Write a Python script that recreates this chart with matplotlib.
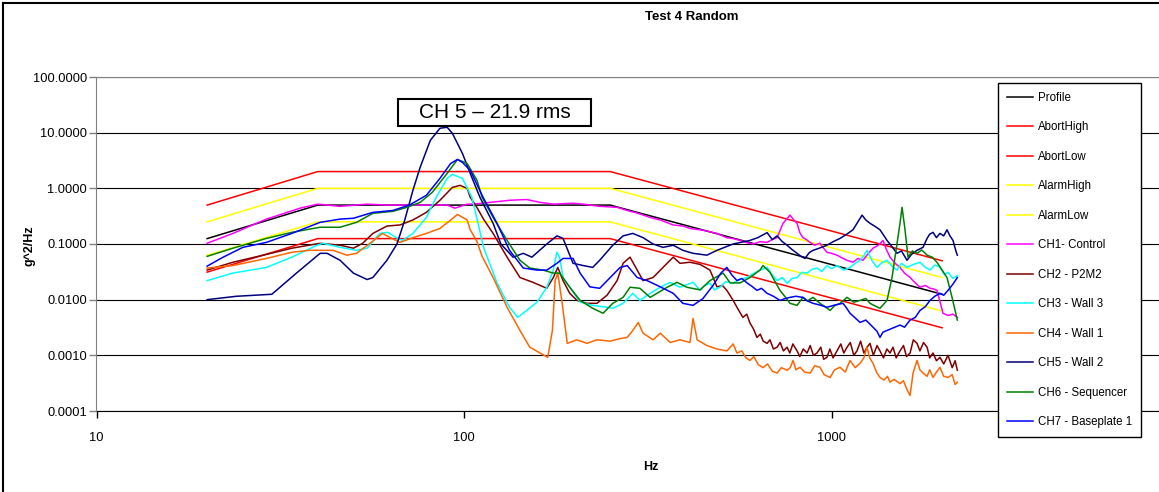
import matplotlib.pyplot as plt
from matplotlib.patches import Rectangle
from matplotlib.lines import Line2D
from matplotlib.ticker import FixedLocator, NullLocator

plt.rcParams['font.family'] = ['Liberation Sans', 'DejaVu Sans']

# test profile and its abort / alarm bands
prof_f = [20, 40, 250, 2000]
profile = [0.125, 0.5, 0.5, 0.0125]
abort_high = [0.5, 2.0, 2.0, 0.05]
abort_low = [0.03125, 0.125, 0.125, 0.003125]
alarm_high = [0.25, 1.0, 1.0, 0.025]
alarm_low = [0.0625, 0.25, 0.25, 0.00625]

# measured channel PSDs, (Hz, g^2/Hz)
ch1 = [(20, 0.103), (23.5, 0.155), (29, 0.28), (35.8, 0.44), (40, 0.52), (46, 0.475),
       (54.5, 0.52), (62, 0.50), (70, 0.50), (79, 0.50), (90, 0.50), (94.5, 0.44),
       (102, 0.52), (106, 0.52), (118, 0.56), (133, 0.61), (148, 0.63), (161, 0.56),
       (175, 0.52), (198, 0.54), (211, 0.52), (234, 0.475), (261, 0.456), (278, 0.40),
       (296, 0.36), (321, 0.30), (342, 0.27), (371, 0.22), (395, 0.21), (412, 0.19),
       (439, 0.18), (460, 0.17), (488, 0.155), (505, 0.14), (519, 0.13), (540, 0.125),
       (564, 0.116), (590, 0.105), (612, 0.10), (640, 0.11), (668, 0.107), (690, 0.12),
       (711, 0.13), (738, 0.235), (771, 0.33), (790, 0.27), (806, 0.235), (820, 0.16),
       (836, 0.13), (855, 0.12), (874, 0.107), (900, 0.095), (930, 0.103), (950, 0.085),
       (972, 0.071), (1000, 0.068), (1035, 0.063), (1070, 0.056), (1102, 0.051),
       (1144, 0.047), (1180, 0.055), (1218, 0.051), (1260, 0.068), (1297, 0.084),
       (1340, 0.095), (1381, 0.116), (1410, 0.08), (1443, 0.058), (1490, 0.045),
       (1536, 0.038), (1580, 0.03), (1636, 0.025), (1690, 0.02), (1741, 0.0167),
       (1800, 0.018), (1854, 0.016), (1900, 0.0155), (1936, 0.0147), (1975, 0.009),
       (2011, 0.0057), (2075, 0.0052), (2140, 0.0055), (2200, 0.0048)]
ch2 = [(20, 0.034), (23.5, 0.047), (29, 0.065), (34, 0.084), (40.6, 0.103), (46, 0.095),
       (50, 0.084), (53, 0.103), (56.5, 0.155), (61.7, 0.21), (67, 0.22), (72.6, 0.27),
       (79, 0.37), (86, 0.61), (93, 1.04), (97.5, 1.13), (102, 1.0), (104, 0.69),
       (108.5, 0.45), (113, 0.28), (120, 0.155), (131, 0.058), (142, 0.025),
       (154, 0.0205), (168, 0.016), (175, 0.025), (180, 0.038), (186, 0.022),
       (194, 0.013), (203, 0.0097), (216, 0.0086), (230, 0.0086), (245, 0.012),
       (261, 0.022), (271, 0.045), (283, 0.058), (296, 0.034), (307, 0.022), (327, 0.025),
       (348, 0.038), (371, 0.058), (387, 0.045), (412, 0.047), (439, 0.043), (467, 0.034),
       (488, 0.017), (505, 0.018), (519, 0.0147), (540, 0.0097), (553, 0.0073),
       (574, 0.0048), (588, 0.0055), (600, 0.0038), (613, 0.0030), (627, 0.0021),
       (640, 0.0024), (652, 0.0018), (668, 0.00164), (680, 0.0019), (695, 0.0013),
       (711, 0.0014), (725, 0.0017), (740, 0.0012), (757, 0.0014), (770, 0.0011),
       (785, 0.0016), (806, 0.0012), (820, 0.00095), (838, 0.0013), (858, 0.0011),
       (875, 0.0015), (893, 0.001), (913, 0.0011), (935, 0.0014), (952, 0.00085),
       (972, 0.00092), (990, 0.0013), (1010, 0.0009), (1035, 0.0012), (1060, 0.0016),
       (1080, 0.0011), (1102, 0.0014), (1125, 0.0017), (1150, 0.001), (1173, 0.0012),
       (1200, 0.0018), (1225, 0.0011), (1250, 0.0014), (1273, 0.00164), (1300, 0.001),
       (1330, 0.0015), (1355, 0.0012), (1385, 0.0009), (1415, 0.0013), (1443, 0.0011),
       (1470, 0.0014), (1500, 0.0009), (1536, 0.0012), (1570, 0.0015), (1600, 0.00095),
       (1636, 0.0011), (1670, 0.0019), (1709, 0.00164), (1740, 0.0012), (1780, 0.0017),
       (1820, 0.0014), (1850, 0.0009), (1889, 0.0011), (1930, 0.0008), (1973, 0.00092),
       (2020, 0.0007), (2075, 0.001), (2130, 0.0006), (2170, 0.0008), (2200, 0.00054)]
ch3 = [(20, 0.022), (23.5, 0.030), (29, 0.038), (34, 0.058), (39.8, 0.095), (41.3, 0.103),
       (46, 0.087), (51, 0.077), (54.5, 0.084), (59, 0.155), (62, 0.162), (66, 0.126),
       (68, 0.116), (72.6, 0.155), (79, 0.30), (84, 0.69), (90, 1.51), (93, 1.78),
       (99, 1.51), (105, 0.69), (109, 0.25), (113, 0.087), (123, 0.020), (133, 0.0073),
       (140, 0.0048), (148, 0.0064), (158, 0.009), (168, 0.0167), (175, 0.034),
       (179, 0.071), (182, 0.058), (186, 0.025), (194, 0.0167), (207, 0.009),
       (224, 0.0079), (245, 0.0073), (254, 0.007), (271, 0.0086), (288, 0.013),
       (301, 0.0097), (321, 0.013), (342, 0.0167), (364, 0.0205), (387, 0.0167),
       (420, 0.0205), (439, 0.0147), (452, 0.018), (467, 0.0197), (480, 0.015),
       (497, 0.0167), (515, 0.021), (540, 0.0197), (560, 0.023), (589, 0.025),
       (610, 0.029), (639, 0.034), (668, 0.038), (690, 0.028), (711, 0.022), (735, 0.025),
       (757, 0.0197), (780, 0.024), (806, 0.025), (830, 0.031), (858, 0.030), (885, 0.035),
       (913, 0.037), (940, 0.032), (972, 0.041), (1000, 0.036), (1035, 0.041),
       (1080, 0.034), (1123, 0.038), (1160, 0.045), (1196, 0.051), (1225, 0.062),
       (1249, 0.077), (1290, 0.05), (1330, 0.038), (1370, 0.046), (1416, 0.051),
       (1460, 0.04), (1507, 0.034), (1550, 0.045), (1605, 0.038), (1670, 0.043),
       (1741, 0.047), (1800, 0.038), (1854, 0.034), (1910, 0.042), (1973, 0.038),
       (2030, 0.028), (2075, 0.031), (2140, 0.024), (2200, 0.027)]
ch4 = [(20, 0.037), (23.5, 0.041), (29, 0.055), (34, 0.071), (38, 0.077), (44, 0.077),
       (48, 0.063), (51, 0.068), (55.5, 0.103), (60, 0.155), (63, 0.13), (67, 0.107),
       (72.6, 0.13), (79, 0.155), (86, 0.19), (92, 0.27), (96, 0.34), (102, 0.27),
       (104, 0.18), (108.5, 0.11), (112, 0.06), (120, 0.025), (131, 0.0073),
       (142, 0.0028), (151, 0.0014), (161, 0.0011), (169, 0.00092), (174, 0.0028),
       (177, 0.022), (180, 0.030), (185, 0.0086), (191, 0.00164), (203, 0.0019),
       (216, 0.00164), (230, 0.0019), (250, 0.0018), (266, 0.002), (278, 0.0021),
       (288, 0.0028), (298, 0.0039), (307, 0.0025), (327, 0.0019), (342, 0.0025),
       (364, 0.0017), (387, 0.0019), (412, 0.0017), (420, 0.0046), (431, 0.0019),
       (458, 0.0015), (488, 0.0013), (519, 0.0012), (540, 0.0016), (553, 0.0011),
       (570, 0.0012), (585, 0.0009), (600, 0.00081), (615, 0.00095), (632, 0.00068),
       (651, 0.0006), (670, 0.0007), (690, 0.00052), (711, 0.00048), (730, 0.0006),
       (757, 0.00054), (772, 0.0006), (786, 0.00081), (800, 0.00055), (821, 0.00061),
       (845, 0.0005), (874, 0.00048), (900, 0.00065), (930, 0.00061), (955, 0.00045),
       (991, 0.0004), (1020, 0.00055), (1055, 0.00061), (1090, 0.0005), (1123, 0.00081),
       (1160, 0.0006), (1196, 0.00072), (1225, 0.0009), (1249, 0.0014), (1270, 0.0009),
       (1297, 0.00072), (1325, 0.0005), (1355, 0.0004), (1390, 0.00036), (1420, 0.00042),
       (1443, 0.00033), (1480, 0.00037), (1536, 0.00031), (1570, 0.00035),
       (1605, 0.00024), (1636, 0.00019), (1667, 0.00048), (1709, 0.00081),
       (1740, 0.00055), (1774, 0.00048), (1820, 0.00042), (1850, 0.00055), (1889, 0.0004),
       (1930, 0.0005), (1973, 0.00061), (2020, 0.00042), (2075, 0.0004), (2130, 0.00045),
       (2170, 0.0003), (2200, 0.00033)]
ch5 = [(20, 0.010), (24, 0.0115), (30, 0.0125), (35, 0.030), (40.6, 0.068), (42.4, 0.068),
       (46, 0.051), (50, 0.030), (54.5, 0.023), (56.5, 0.025), (61.7, 0.051), (65.7, 0.10),
       (69, 0.27), (72.6, 0.92), (76, 2.4), (81, 7.3), (86, 12.0), (90, 12.5), (93, 9.7),
       (99, 4.25), (105, 1.58), (110.5, 0.69), (120, 0.235), (126, 0.10), (136, 0.058),
       (145, 0.068), (153, 0.058), (168, 0.10), (179, 0.14), (186, 0.126), (198, 0.045),
       (211, 0.041), (224, 0.038), (234, 0.051), (254, 0.095), (271, 0.14), (288, 0.155),
       (307, 0.13), (327, 0.10), (348, 0.087), (371, 0.095), (394, 0.077), (420, 0.068),
       (458, 0.063), (488, 0.077), (540, 0.10), (600, 0.116), (630, 0.13), (668, 0.16),
       (690, 0.12), (711, 0.14), (735, 0.11), (757, 0.095), (780, 0.08), (806, 0.068),
       (826, 0.06), (847, 0.055), (870, 0.07), (891, 0.077), (930, 0.085), (972, 0.095),
       (1010, 0.11), (1055, 0.126), (1100, 0.15), (1144, 0.18), (1180, 0.25),
       (1211, 0.33), (1240, 0.27), (1273, 0.235), (1310, 0.21), (1355, 0.18),
       (1390, 0.14), (1416, 0.116), (1460, 0.09), (1507, 0.068), (1550, 0.075),
       (1605, 0.051), (1650, 0.065), (1709, 0.077), (1774, 0.087), (1820, 0.126),
       (1850, 0.15), (1889, 0.162), (1930, 0.13), (1973, 0.155), (2020, 0.14),
       (2062, 0.18), (2100, 0.14), (2141, 0.116), (2180, 0.075), (2200, 0.063)]
ch6 = [(20, 0.06), (23.5, 0.084), (29, 0.126), (34, 0.162), (40.6, 0.20), (46, 0.20),
       (51, 0.245), (56.5, 0.356), (64, 0.386), (70, 0.456), (76, 0.56), (82, 0.85),
       (90, 1.86), (96, 3.3), (102, 2.8), (108.5, 1.39), (112, 0.69), (120, 0.30),
       (131, 0.116), (142, 0.051), (151, 0.037), (164, 0.034), (175, 0.030), (182, 0.030),
       (194, 0.0167), (207, 0.0097), (224, 0.007), (239, 0.0057), (254, 0.0086),
       (271, 0.011), (283, 0.0167), (301, 0.016), (321, 0.011), (335, 0.013),
       (357, 0.0167), (380, 0.0205), (404, 0.0167), (439, 0.015), (467, 0.022),
       (507, 0.030), (530, 0.020), (564, 0.020), (600, 0.025), (639, 0.034), (651, 0.041),
       (680, 0.031), (724, 0.0147), (750, 0.011), (771, 0.0086), (806, 0.0079),
       (836, 0.011), (860, 0.0095), (891, 0.011), (930, 0.0086), (960, 0.0075),
       (991, 0.0064), (1020, 0.0078), (1055, 0.0086), (1102, 0.011), (1150, 0.009),
       (1196, 0.0097), (1240, 0.0105), (1273, 0.0086), (1310, 0.0078), (1355, 0.007),
       (1416, 0.0097), (1461, 0.025), (1489, 0.058), (1536, 0.235), (1556, 0.456),
       (1585, 0.18), (1615, 0.058), (1660, 0.075), (1709, 0.068), (1760, 0.078),
       (1820, 0.063), (1880, 0.058), (1936, 0.047), (2000, 0.034), (2062, 0.025),
       (2128, 0.011), (2200, 0.0043)]
ch7 = [(20, 0.040), (22, 0.057), (25, 0.087), (29, 0.107), (34, 0.155), (40.6, 0.245),
       (46, 0.28), (50, 0.29), (56.5, 0.37), (64, 0.40), (71, 0.50), (79, 0.75),
       (86, 1.51), (92, 2.8), (96, 3.3), (99, 2.93), (104, 2.1), (112.7, 0.69),
       (123, 0.235), (133, 0.077), (145, 0.037), (158, 0.034), (168, 0.034), (179, 0.045),
       (186, 0.055), (198, 0.055), (207, 0.030), (220, 0.017), (234, 0.016), (250, 0.025),
       (266, 0.038), (278, 0.041), (296, 0.025), (315, 0.022), (342, 0.017), (371, 0.013),
       (394, 0.0086), (420, 0.0079), (447, 0.0105), (476, 0.018), (500, 0.03),
       (519, 0.038), (535, 0.028), (553, 0.022), (570, 0.024), (589, 0.020), (610, 0.017),
       (627, 0.0147), (645, 0.016), (668, 0.013), (695, 0.0115), (724, 0.0097),
       (750, 0.0105), (771, 0.011), (800, 0.0115), (836, 0.011), (860, 0.0095),
       (891, 0.0086), (930, 0.008), (972, 0.0073), (1020, 0.008), (1075, 0.0086),
       (1100, 0.007), (1123, 0.0057), (1160, 0.0047), (1196, 0.0039), (1240, 0.0043),
       (1297, 0.0032), (1330, 0.0027), (1355, 0.0021), (1380, 0.0026), (1416, 0.0028),
       (1470, 0.0031), (1536, 0.0035), (1580, 0.0032), (1636, 0.0043), (1690, 0.0048),
       (1741, 0.0064), (1800, 0.0075), (1854, 0.0097), (1910, 0.0115), (1973, 0.013),
       (2020, 0.012), (2075, 0.0147), (2140, 0.019), (2200, 0.025)]

W, H = 1159, 492
fig = plt.figure(figsize=(W / 100, H / 100), dpi=100)
ax = fig.add_axes([96.5 / W, 1 - 411 / H, 1102.5 / W, 334 / H])
ax.set_xscale('log')
ax.set_yscale('log')

lines = []
limits = [('Profile', profile, 'black'), ('AbortHigh', abort_high, '#FF0000'),
          ('AbortLow', abort_low, '#FF0000'), ('AlarmHigh', alarm_high, '#FFFF00'),
          ('AlarmLow', alarm_low, '#FFFF00')]
for name, vals, col in limits:
    l, = ax.plot(prof_f, vals, color=col, lw=1.1, label=name)
    lines.append(l)

channels = [('CH1- Control', ch1, '#FF00FF'), ('CH2 - P2M2', ch2, '#800000'),
            ('CH3 - Wall 3', ch3, '#00FFFF'), ('CH4 - Wall 1', ch4, '#FF6600'),
            ('CH5 - Wall 2', ch5, '#000080'), ('CH6 - Sequencer', ch6, '#008000'),
            ('CH7 - Baseplate 1', ch7, '#0000FF')]
for name, pts, col in channels:
    f = [p[0] for p in pts]
    v = [p[1] for p in pts]
    l, = ax.plot(f, v, color=col, lw=1.1, label=name)
    lines.append(l)

ax.set_xlim(10, 10000)
ax.set_ylim(1e-4, 100)
ax.xaxis.set_major_locator(FixedLocator([10, 100, 1000]))
ax.xaxis.set_minor_locator(NullLocator())
ax.set_xticklabels(['10', '100', '1000'])
yt = [1e-4, 1e-3, 1e-2, 1e-1, 1, 10, 100]
ax.yaxis.set_major_locator(FixedLocator(yt))
ax.yaxis.set_minor_locator(NullLocator())
ax.set_yticklabels(['%.4f' % v for v in yt])
ax.yaxis.grid(True, color='black', lw=0.8)
ax.set_axisbelow(True)
ax.tick_params(axis='y', direction='out', length=5, width=1, color='#808080',
               pad=2, labelsize=9.3)
ax.tick_params(axis='x', direction='out', length=5, width=1, color='black',
               pad=10, labelsize=9.3)
for s in ['top', 'left']:
    ax.spines[s].set_color('#808080')
ax.spines['bottom'].set_color('black')
ax.spines['right'].set_visible(False)

fig.text(692 / W, 1 - 17 / H, 'Test 4 Random', ha='center', va='center',
         fontsize=9.5, fontweight='bold')
fig.text(651 / W, 1 - 467 / H, 'Hz', ha='center', va='center',
         fontsize=9, fontweight='bold')
fig.text(29 / W, 1 - 246 / H, 'g^2/Hz', ha='center', va='center',
         fontsize=9, fontweight='bold', rotation=90)

# rms callout
fig.patches.append(Rectangle((398 / W, 1 - 126 / H), 193 / W, 27 / H,
                             transform=fig.transFigure, fill=False,
                             edgecolor='black', lw=1.5))
fig.text(494.5 / W, 1 - 113 / H, 'CH 5 \u2013 21.9 rms', ha='center',
         va='center', fontsize=15)

leg = ax.legend(handles=lines, loc='upper left',
                bbox_to_anchor=(998 / W, 1 - 83 / H),
                bbox_transform=fig.transFigure, fontsize=8.3, frameon=True,
                fancybox=False, edgecolor='black', framealpha=1,
                borderaxespad=0, borderpad=0.75, labelspacing=1.52,
                handlelength=2.3, handletextpad=0.4)
leg.get_frame().set_linewidth(1)

# chart area border
fig.lines.append(Line2D([2.5 / W, 2.5 / W], [0, 1 - 2.5 / H],
                        transform=fig.transFigure, color='black', lw=1.5))
fig.lines.append(Line2D([2.5 / W, 1], [1 - 2.5 / H, 1 - 2.5 / H],
                        transform=fig.transFigure, color='black', lw=1.5))

fig.savefig('out.png', dpi=100)
